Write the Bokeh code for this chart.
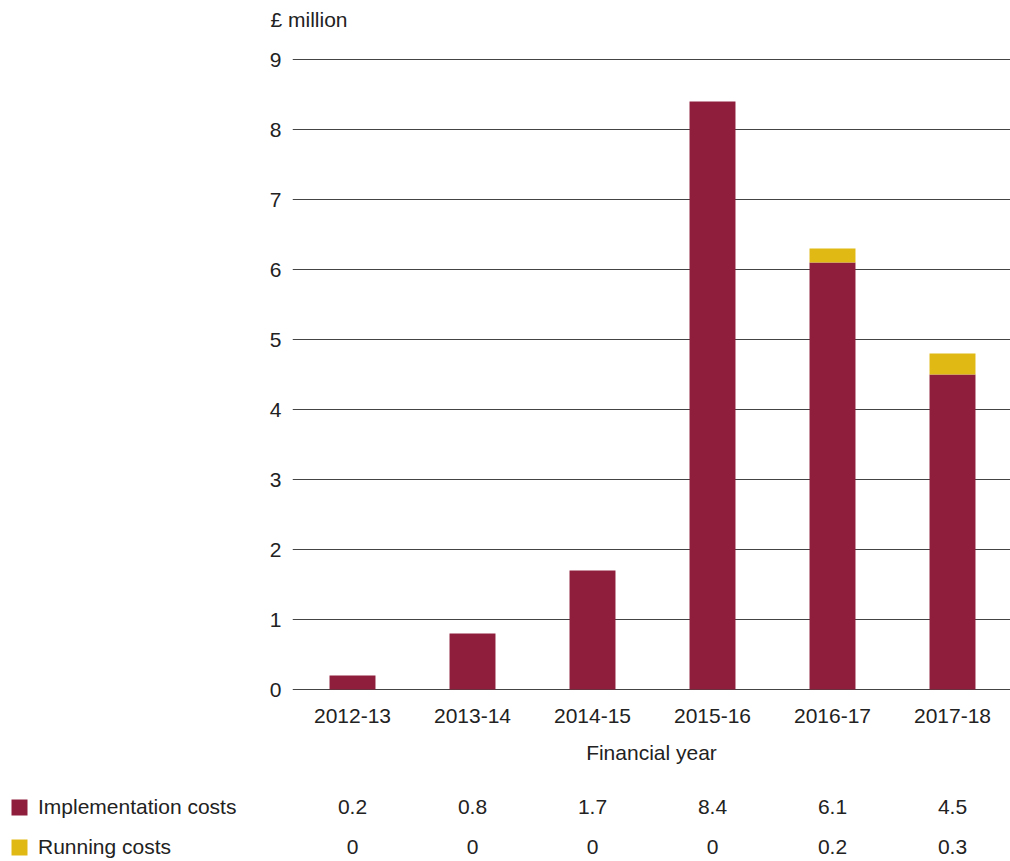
from bokeh.plotting import figure
from bokeh.models import (ColumnDataSource, Range1d, FixedTicker, Legend, LegendItem, Title)
from bokeh.layouts import column, row
from bokeh.embed import file_html
from bokeh.resources import INLINE
from bokeh.core.properties import value

years = ["2012-13", "2013-14", "2014-15", "2015-16", "2016-17", "2017-18"]
implementation = [0.2, 0.8, 1.7, 8.4, 6.1, 4.5]
running = [0, 0, 0, 0, 0.2, 0.3]
impl_labels = ["0.2", "0.8", "1.7", "8.4", "6.1", "4.5"]
run_labels = ["0", "0", "0", "0", "0.2", "0.3"]
series_names = ["Implementation costs", "Running costs"]
y_ticks = list(range(0, 10))

MAROON = "#8f1e3c"
GOLD = "#e0b914"
TEXT = "#222222"
FONT = "Liberation Sans"
FS = "21px"

W = 1010
LEFT = 292
PX_PER_CAT = 120
x_start = -0.5
x_end = x_start + (W - LEFT) / PX_PER_CAT

idx = list(range(len(years)))
src = ColumnDataSource(dict(x=idx, impl=implementation, run=running, year=years))

p = figure(width=W, height=770, output_backend="svg", toolbar_location=None,
           x_range=Range1d(x_start, x_end),
           y_range=Range1d(-2 / 70, 9 + 1 / 70),
           min_border_left=LEFT, min_border_right=0, min_border_top=57,
           min_border_bottom=79)
p.outline_line_color = None
p.background_fill_color = "white"
p.border_fill_color = "white"

p.vbar_stack(["impl", "run"], x="x", width=0.383, source=src,
             color=[MAROON, GOLD], line_color=None)

# spacer between the unit title and the plot area
p.add_layout(Title(text=" ", text_font_size="17px", standoff=1), "above")

p.title.text = "£ million"
p.title.text_font = FONT
p.title.text_font_size = FS
p.title.text_font_style = "normal"
p.title.text_color = TEXT
p.title.align = "left"
p.title.offset = -22
p.title.standoff = 11

p.xgrid.grid_line_color = None
p.ygrid.ticker = FixedTicker(ticks=y_ticks)
p.ygrid.grid_line_color = "#444444"
p.ygrid.grid_line_width = 1

p.yaxis.ticker = FixedTicker(ticks=y_ticks)
p.yaxis.axis_line_color = None
p.yaxis.major_tick_line_color = None
p.yaxis.minor_tick_line_color = None
p.yaxis.major_label_text_font = FONT
p.yaxis.major_label_text_font_size = FS
p.yaxis.major_label_text_color = TEXT
p.yaxis.major_label_standoff = 5

p.xaxis.ticker = FixedTicker(ticks=idx)
p.xaxis.major_label_overrides = {i: y for i, y in zip(idx, years)}
p.xaxis.axis_line_color = None
p.xaxis.major_tick_line_color = None
p.xaxis.minor_tick_line_color = None
p.xaxis.major_label_text_font = FONT
p.xaxis.major_label_text_font_size = FS
p.xaxis.major_label_text_color = TEXT
p.xaxis.major_label_standoff = 11
p.xaxis.axis_label = "Financial year"
p.xaxis.axis_label_text_font = FONT
p.xaxis.axis_label_text_font_size = FS
p.xaxis.axis_label_text_font_style = "normal"
p.xaxis.axis_label_text_color = TEXT
p.xaxis.axis_label_standoff = 15

# ---- table below: legend part (left) and values part (right) ----
row_h = 40
top_px = 36
H2 = 91
yr = Range1d(start=(H2 - top_px) / row_h, end=-top_px / row_h)

tl = figure(width=LEFT, height=H2, output_backend="svg", toolbar_location=None,
            x_range=Range1d(0, 1), y_range=yr,
            min_border_left=0, min_border_right=0, min_border_top=0, min_border_bottom=0)
tl.outline_line_color = None
tl.axis.visible = False
tl.grid.visible = False

# zero-height placeholders so the legend has a fill colour to show
dummy = ColumnDataSource(dict(x=[0], top=[0]))
r_impl = tl.vbar(x="x", top="top", bottom="top", width=0.3, source=dummy,
                 color=MAROON, line_color=None)
r_run = tl.vbar(x="x", top="top", bottom="top", width=0.3, source=dummy,
                color=GOLD, line_color=None)

legend = Legend(items=[LegendItem(label=series_names[0], renderers=[r_impl]),
                       LegendItem(label=series_names[1], renderers=[r_run])],
                location=(9, 2), orientation="vertical")
legend.border_line_color = None
legend.background_fill_alpha = 0
legend.padding = 0
legend.margin = 0
legend.glyph_width = 20
legend.glyph_height = 20
legend.label_standoff = 9
legend.label_height = 20
legend.spacing = 16
legend.label_text_font = FONT
legend.label_text_font_size = FS
legend.label_text_color = TEXT
tl.add_layout(legend)

tv = figure(width=W - LEFT, height=H2, output_backend="svg", toolbar_location=None,
            x_range=Range1d(x_start, x_end), y_range=yr,
            min_border_left=0, min_border_right=0, min_border_top=0, min_border_bottom=0)
tv.outline_line_color = None
tv.axis.visible = False
tv.grid.visible = False

tsrc = ColumnDataSource(dict(x=idx, r0=[0] * len(idx), r1=[1] * len(idx),
                             impl=impl_labels, run=run_labels))
tv.text(x="x", y="r0", text="impl", source=tsrc, text_align="center",
        text_baseline="middle", text_font=value(FONT), text_font_size=FS,
        text_color=TEXT)
tv.text(x="x", y="r1", text="run", source=tsrc, text_align="center",
        text_baseline="middle", text_font=value(FONT), text_font_size=FS,
        text_color=TEXT)

layout = column(p, row(tl, tv, spacing=0), spacing=0)
open("out.html", "w").write(file_html(layout, INLINE))
